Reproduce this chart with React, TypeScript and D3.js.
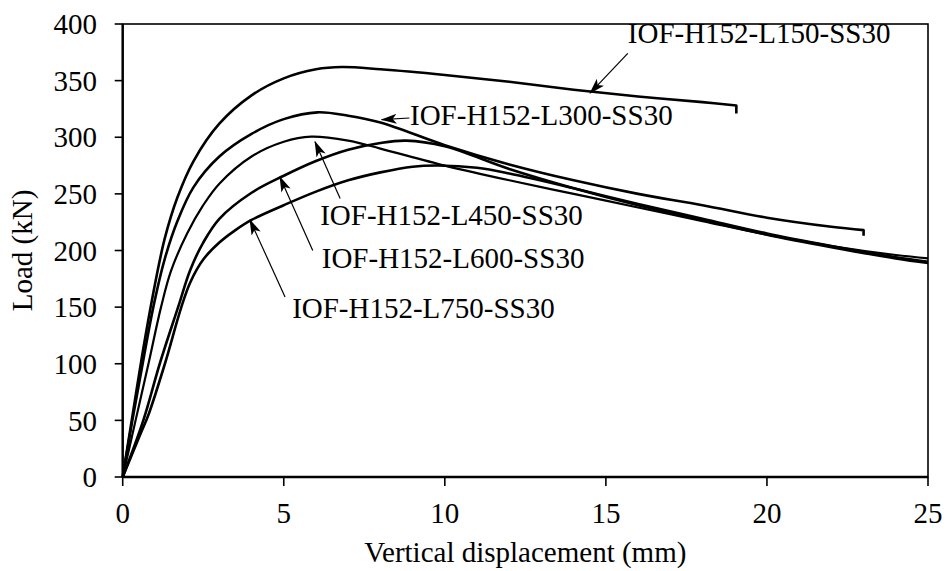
import React, { useRef, useEffect } from 'react';
import * as d3 from 'd3';

const WIDTH = 948;
const HEIGHT = 571;

const xTicks = [0, 5, 10, 15, 20, 25];
const yTicks = [0, 50, 100, 150, 200, 250, 300, 350, 400];

// [displacement (mm), load (kN)]
const curveL150: [number, number][] = [
  [0, 0], [0.28, 50], [0.59, 105], [0.9, 155], [1.3, 210], [1.7, 247], [2.2, 279],
  [3.0, 312], [4.0, 337], [5.0, 352], [6.0, 360], [6.8, 362], [8, 360], [10, 355],
  [12, 349], [14, 342], [16, 336], [18, 331], [19.05, 328],
];
const curveL300: [number, number][] = [
  [0, 0], [0.3, 50], [0.62, 100], [0.95, 150], [1.3, 192], [1.7, 226], [2.2, 256],
  [3.0, 283], [4.0, 303], [5.0, 316], [6.05, 322], [7, 319], [8, 313], [10, 293],
  [12, 276], [14, 262], [16, 250], [18, 240], [20, 229], [22, 221], [23, 218],
];
const curveL450: [number, number][] = [
  [0, 0], [0.4, 50], [0.8, 100], [1.19, 150], [1.5, 182], [2.0, 215], [2.5, 240],
  [3.0, 259], [4.0, 283], [5.0, 296], [5.85, 300.5], [7, 297], [8, 290], [10, 275],
  [12, 262], [14, 250], [16, 238], [18, 226], [20, 214], [22, 204], [24, 196], [25, 193],
];
const curveL600: [number, number][] = [
  [0, 0], [0.64, 50], [1.15, 100], [1.72, 150], [2.1, 183], [2.5, 207],
  [3.0, 228], [4.0, 251], [5.0, 266], [6, 279], [7, 289], [8, 295], [8.8, 297],
  [10, 292], [12, 272], [14, 255], [16, 240], [18, 227], [20, 214], [22, 203], [24, 193], [25, 189],
];
const curveL750: [number, number][] = [
  [0, 0], [0.55, 38], [0.8, 55], [1.31, 100], [1.82, 150], [2.1, 172], [2.5, 192],
  [3.0, 207], [3.5, 218], [4.0, 227], [5, 240], [6, 252], [7, 262], [8, 269], [9, 274],
  [9.8, 275], [11, 273], [12, 268], [14, 255], [16, 241], [18, 228], [20, 215], [22, 204],
  [24, 194], [25, 190],
];

// load at which the two shorter tests drop off at their last displacement
const dropL150 = 321;
const dropL300 = 213;

const series = [
  { name: 'L150', points: curveL150, drop: dropL150, width: 2.6 },
  { name: 'L300', points: curveL300, drop: dropL300, width: 2.6 },
  { name: 'L450', points: curveL450, drop: null, width: 2.2 },
  { name: 'L600', points: curveL600, drop: null, width: 2.6 },
  { name: 'L750', points: curveL750, drop: null, width: 2.6 },
];

// annotation text baseline start, arrow tail and arrow tip, in data units
const annotations = [
  { text: 'IOF-H152-L150-SS30', at: [15.68, 383], from: [15.68, 374], to: [14.51, 339] },
  { text: 'IOF-H152-L300-SS30', at: [8.92, 310.8], from: [8.9, 317], to: [8.04, 315.5] },
  { text: 'IOF-H152-L450-SS30', at: [6.13, 222.5], from: [6.75, 246], to: [5.97, 296] },
  { text: 'IOF-H152-L600-SS30', at: [6.18, 184.5], from: [5.9, 200], to: [4.88, 265] },
  { text: 'IOF-H152-L750-SS30', at: [5.26, 140.4], from: [5.04, 159], to: [3.95, 227] },
];

const FONT = '"Times New Roman", "Liberation Serif", serif';
const FONT_SIZE = '29px';

const App = () => {
  const svgRef = useRef<SVGSVGElement>(null);

  useEffect(() => {
    document.body.style.margin = '0';
    const svg = d3.select(svgRef.current);
    svg.selectAll('*').remove();

    const left = 122.7, right = 928, top = 24, bottom = 477;
    const x = d3.scaleLinear().domain([0, 25]).range([left, right]);
    const y = d3.scaleLinear().domain([0, 400]).range([bottom, top]);

    svg.attr('width', WIDTH).attr('height', HEIGHT).style('background', 'white');

    const defs = svg.append('defs');
    defs.append('marker')
      .attr('id', 'arrow')
      .attr('markerUnits', 'userSpaceOnUse')
      .attr('markerWidth', 16)
      .attr('markerHeight', 10)
      .attr('refX', 15)
      .attr('refY', 5)
      .attr('orient', 'auto')
      .append('path')
      .attr('d', 'M0,0 L16,5 L0,10 L4,5 Z')
      .attr('fill', '#000');

    // curves
    const line = d3.line<[number, number]>()
      .x(d => x(d[0]))
      .y(d => y(d[1]))
      .curve(d3.curveCatmullRom.alpha(0.5));

    series.forEach(s => {
      const last = s.points[s.points.length - 1];
      let d = line(s.points) || '';
      if (s.drop !== null) d += `L${x(last[0])},${y(s.drop)}`;
      svg.append('path')
        .attr('d', d)
        .attr('fill', 'none')
        .attr('stroke', '#000')
        .attr('stroke-width', s.width)
        .attr('stroke-linejoin', 'round');
    });

    // frame
    svg.append('rect')
      .attr('x', left).attr('y', top)
      .attr('width', right - left).attr('height', bottom - top)
      .attr('fill', 'none').attr('stroke', '#000').attr('stroke-width', 1.6);
    svg.append('line')
      .attr('x1', left).attr('x2', left).attr('y1', top).attr('y2', bottom)
      .attr('stroke', '#000').attr('stroke-width', 2.4);
    svg.append('line')
      .attr('x1', left).attr('x2', right).attr('y1', bottom).attr('y2', bottom)
      .attr('stroke', '#000').attr('stroke-width', 2.4);

    // y ticks
    yTicks.forEach(t => {
      svg.append('line')
        .attr('x1', left - 8).attr('x2', left).attr('y1', y(t)).attr('y2', y(t))
        .attr('stroke', '#000').attr('stroke-width', 1.6);
      svg.append('text')
        .attr('x', 97).attr('y', y(t))
        .attr('dy', '0.35em')
        .attr('text-anchor', 'end')
        .style('font-family', FONT).style('font-size', FONT_SIZE)
        .text(t);
    });

    // x ticks
    xTicks.forEach(t => {
      svg.append('line')
        .attr('x1', x(t)).attr('x2', x(t)).attr('y1', bottom).attr('y2', bottom + 9)
        .attr('stroke', '#000').attr('stroke-width', 1.6);
      svg.append('text')
        .attr('x', x(t)).attr('y', 523)
        .attr('text-anchor', 'middle')
        .style('font-family', FONT).style('font-size', FONT_SIZE)
        .text(t);
    });

    svg.append('text')
      .attr('x', (left + right) / 2).attr('y', 562)
      .attr('text-anchor', 'middle')
      .style('font-family', FONT).style('font-size', FONT_SIZE)
      .text('Vertical displacement (mm)');

    svg.append('text')
      .attr('transform', `translate(32, ${(top + bottom) / 2}) rotate(-90)`)
      .attr('text-anchor', 'middle')
      .style('font-family', FONT).style('font-size', FONT_SIZE)
      .text('Load (kN)');

    // annotations
    annotations.forEach(a => {
      svg.append('line')
        .attr('x1', x(a.from[0])).attr('y1', y(a.from[1]))
        .attr('x2', x(a.to[0])).attr('y2', y(a.to[1]))
        .attr('stroke', '#000').attr('stroke-width', 1.2)
        .attr('marker-end', 'url(#arrow)');
      svg.append('text')
        .attr('x', x(a.at[0])).attr('y', y(a.at[1]))
        .style('font-family', FONT).style('font-size', FONT_SIZE)
        .text(a.text);
    });
  }, []);

  return <svg ref={svgRef} style={{ display: 'block' }}></svg>;
};

export default App;
